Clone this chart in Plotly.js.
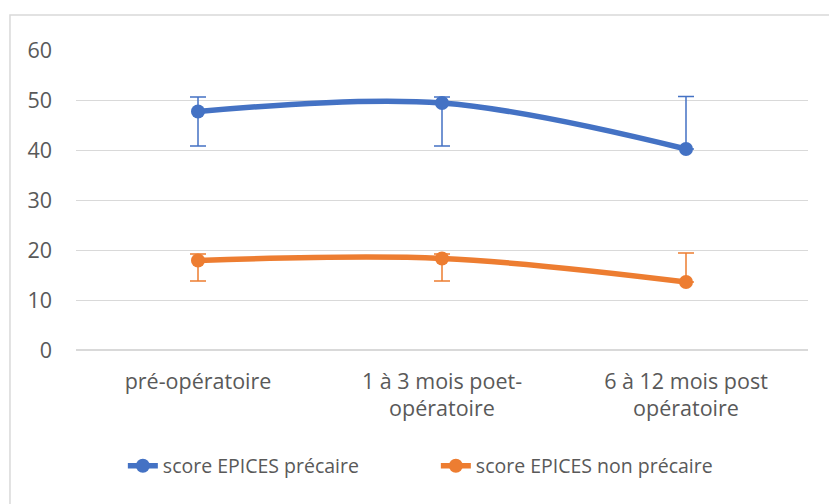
<!DOCTYPE html>
<html>
<head>
<meta charset="utf-8">
<script src="https://cdn.plot.ly/plotly-3.0.1.min.js"></script>
<style>html,body{margin:0;padding:0;background:#fff;}#chart{width:829px;height:504px;}</style>
</head>
<body>
<div id="chart"></div>
<script>
var categories = ["pré-opératoire", "1 à 3 mois poet-<br>opératoire", "6 à 12 mois post<br>opératoire"];
var precaire = [47.7, 49.4, 40.2];
var precairePlus = [2.9, 1.2, 10.5];
var precaireMinus = [6.9, 8.6, 0];
var nonPrecaire = [17.9, 18.3, 13.6];
var nonPrecairePlus = [1.3, 0.9, 5.8];
var nonPrecaireMinus = [4.1, 4.5, 0];
var yTicks = [0, 10, 20, 30, 40, 50, 60];

var FONT = "'Open Sans', sans-serif";
var blue = "#4472C4", orange = "#ED7D31";

var traces = [
  {
    x: categories, y: precaire, name: "score EPICES précaire",
    type: "scatter", mode: "lines+markers",
    line: {color: blue, width: 5.5, shape: "spline", smoothing: 1},
    marker: {color: blue, size: 14},
    error_y: {type: "data", array: precairePlus, arrayminus: precaireMinus, symmetric: false, color: blue, thickness: 1.5, width: 8}
  },
  {
    x: categories, y: nonPrecaire, name: "score EPICES non précaire",
    type: "scatter", mode: "lines+markers",
    line: {color: orange, width: 5.5, shape: "spline", smoothing: 1},
    marker: {color: orange, size: 14},
    error_y: {type: "data", array: nonPrecairePlus, arrayminus: nonPrecaireMinus, symmetric: false, color: orange, thickness: 1.5, width: 8}
  }
];

var layout = {
  width: 829, height: 504,
  margin: {l: 76, r: 21, t: 50, b: 154},
  paper_bgcolor: "#fff", plot_bgcolor: "#fff",
  font: {family: FONT, size: 21.5, color: "#595959"},
  showlegend: true,
  legend: {orientation: "h", x: 0.064, xanchor: "left", y: -0.387, yanchor: "middle",
           font: {family: FONT, size: 19.5, color: "#595959"}, itemwidth: 30,
           entrywidth: 268, entrywidthmode: "pixels", tracegroupgap: 0},
  xaxis: {
    type: "category", range: [-0.5, 2.5], showgrid: false, zeroline: false, showline: false,
    ticks: "", tickfont: {family: FONT, size: 21.5, color: "#595959"}, ticklabelstandoff: 16
  },
  yaxis: {
    range: [0, 60], tickvals: yTicks, ticktext: yTicks.map(String),
    showgrid: true, gridcolor: "#d9d9d9", gridwidth: 1, zeroline: true, zerolinecolor: "#d9d9d9", zerolinewidth: 1.5, showline: false,
    ticks: "", tickfont: {family: FONT, size: 21.5, color: "#595959"}, ticklabelstandoff: 23
  },
  shapes: [
    {type: "rect", xref: "paper", yref: "paper", x0: -0.0902, x1: 1.04, y0: -0.55, y1: 1.1167, line: {color: "#d9d9d9", width: 1.5}, fillcolor: "rgba(0,0,0,0)", layer: "below"}
  ]
};

Plotly.newPlot("chart", traces, layout, {displayModeBar: false, staticPlot: true});
</script>
</body>
</html>
